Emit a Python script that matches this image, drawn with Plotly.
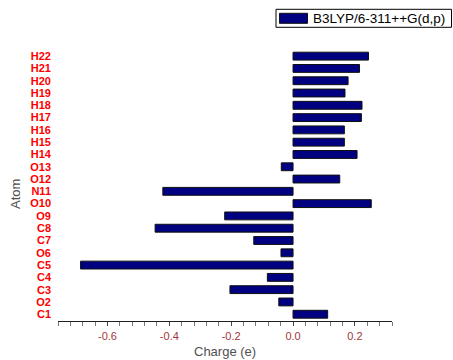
import plotly.graph_objects as go

atoms = ["C1", "O2", "C3", "C4", "C5", "O6", "C7", "C8", "O9", "O10", "N11",
         "O12", "O13", "H14", "H15", "H16", "H17", "H18", "H19", "H20", "H21", "H22"]
charges = [0.112, -0.046, -0.204, -0.083, -0.687, -0.039, -0.127, -0.446, -0.221, 0.253, -0.421,
           0.151, -0.038, 0.207, 0.166, 0.166, 0.221, 0.223, 0.168, 0.178, 0.215, 0.244]
series_name = "B3LYP/6-311++G(d,p)"
x_ticks = [-0.6, -0.4, -0.2, 0.0, 0.2]
x_ticktext = ["-0.6", "-0.4", "-0.2", "0.0", "0.2"]

idx = list(range(len(atoms)))
FONT = "Liberation Sans, Arial, sans-serif"
XR = [-0.76, 0.32]
YR = [-0.55, len(atoms) - 0.5]

fig = go.Figure()
fig.add_trace(go.Bar(
    x=charges, y=idx, orientation="h", name=series_name,
    marker=dict(color="#000080", line=dict(color="#101010", width=1)),
    width=0.64, showlegend=False,
))

zero_pos = (0 - XR[0]) / (XR[1] - XR[0])

fig.update_layout(
    width=453, height=360,
    margin=dict(l=58, r=61, t=50, b=39),
    paper_bgcolor="white", plot_bgcolor="white",
    font=dict(family=FONT),
    xaxis=dict(
        range=XR, tickvals=x_ticks, ticktext=x_ticktext, automargin=False,
        showgrid=False, zeroline=False,
        showline=True, linecolor="#222", linewidth=1,
        ticks="outside", ticklen=4, tickcolor="#444",
        tickfont=dict(size=11, color="#a03838", family=FONT),
        ticklabelstandoff=1,
        minor=dict(tick0=0, dtick=0.04, ticks="outside", ticklen=4, tickcolor="#777"),
    ),
    yaxis=dict(
        range=YR, tickvals=idx, ticktext=atoms, automargin=False,
        showgrid=False, zeroline=False, showline=False, ticks="",
        tickfont=dict(size=11, color="#ff0000", family=FONT, weight="bold"),
        ticklabelstandoff=6,
    ),
    yaxis2=dict(
        range=YR, overlaying="y", anchor="free", position=zero_pos, side="left",
        tickvals=idx, showticklabels=False, showgrid=False, zeroline=False,
        showline=True, linecolor="#222", linewidth=1, automargin=False,
        ticks="outside", ticklen=4, tickcolor="#333",
        minor=dict(tick0=0.5, dtick=1, ticks="inside", ticklen=3, tickcolor="#888"),
    ),
)

def px_x(p):
    return (p - 58) / (453 - 58 - 61)

def px_y(p):
    return (360 - 39 - p) / (360 - 50 - 39)

# axis titles
fig.add_annotation(text="Charge (e)", xref="paper", yref="paper", x=px_x(225), y=px_y(351.5),
                   xanchor="center", yanchor="middle", showarrow=False,
                   font=dict(size=13, color="#505050", family=FONT))
fig.add_annotation(text="Atom", xref="paper", yref="paper", x=px_x(15), y=px_y(194),
                   xanchor="center", yanchor="middle",
                   textangle=-90, showarrow=False,
                   font=dict(size=13, color="#505050", family=FONT))

# legend box (drawn)
fig.add_shape(type="rect", xref="paper", yref="paper",
              x0=px_x(276), x1=px_x(451.5), y0=px_y(27.3), y1=px_y(9.3),
              line=dict(color="black", width=1), fillcolor="white")
fig.add_shape(type="rect", xref="paper", yref="paper",
              x0=px_x(279.5), x1=px_x(307.5), y0=px_y(23.3), y1=px_y(13.3),
              line=dict(color="#101010", width=1), fillcolor="#000080")
fig.add_annotation(text=series_name, xref="paper", yref="paper",
                   x=px_x(310.5), y=px_y(18.5), xanchor="left", yanchor="middle",
                   showarrow=False, font=dict(size=13.5, color="black", family=FONT))

fig.write_html("out.html")
